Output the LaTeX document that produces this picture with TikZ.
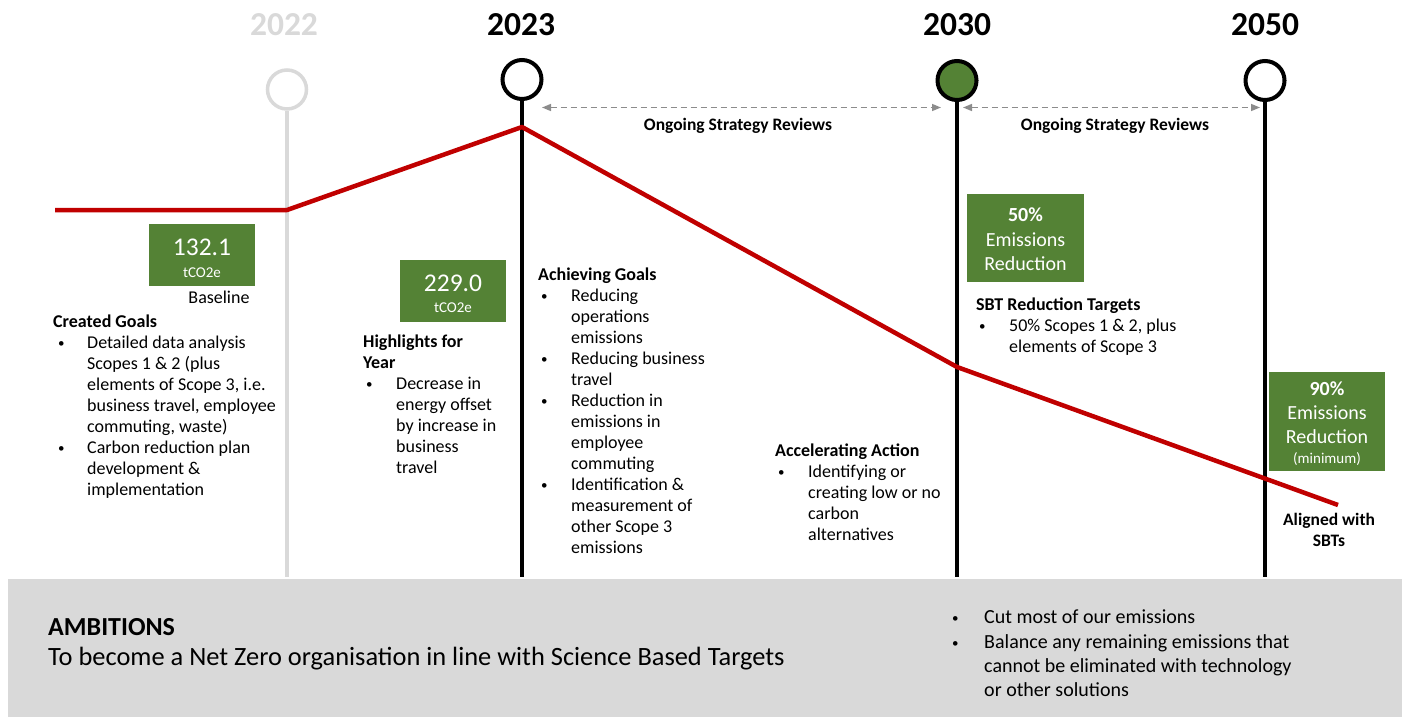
\documentclass[tikz,border=0pt]{standalone}
\usepackage{fontspec}
\setmainfont{Carlito}
\usetikzlibrary{arrows.meta}
\definecolor{tlgreen}{HTML}{548235}
\definecolor{tlred}{HTML}{C00000}
\definecolor{tlgray}{HTML}{D9D9D9}
\definecolor{tldash}{HTML}{8C8C8C}
\newcommand{\bodyfont}{\fontsize{18}{21}\selectfont}
\newcommand{\bigbody}{\fontsize{20}{24.3}\selectfont}
\newcommand{\bul}{\hspace*{3pt}\raisebox{1pt}{\fontsize{13}{13}\selectfont\textbullet}}
\tikzset{
  yearlbl/.style={font=\fontsize{33.5}{40}\selectfont\bfseries, anchor=base, inner sep=0},
  milestone/.style={circle, draw=black, line width=4pt, fill=white, minimum size=39pt, inner sep=0},
  stem/.style={line width=4pt, draw=black},
  emis/.style={draw=tlred, line width=4.5pt, line join=round},
  review/.style={draw=tldash, line width=1.5pt, dash pattern=on 6pt off 4pt,
     {Triangle[length=9pt,width=7pt]}-{Triangle[length=9pt,width=7pt]}},
  greenbox/.style={fill=tlgreen, draw=none, inner sep=0, anchor=north west},
  boxtxt/.style={text=white, anchor=base, inner sep=0},
  bodytxt/.style={font=\bodyfont, anchor=north west, inner sep=0},
  lbl/.style={font=\fontsize{17.5}{21}\selectfont\bfseries, anchor=base, inner sep=0}
}
\begin{document}
\begin{tikzpicture}[x=1pt,y=-1pt]
\useasboundingbox (0,0) rectangle (1404,717);
% bottom band
\fill[tlgray] (8,579) rectangle (1402,717);
% year labels
\node[yearlbl, text=tlgray] (y22) at (284,35.5) {2022};
\node[yearlbl] (y23) at (521,35.5) {2023};
\node[yearlbl] (y30) at (957,35.5) {2030};
\node[yearlbl] (y50) at (1265,35.5) {2050};
% stems
\coordinate (b22) at (287,577);
\coordinate (b23) at (522,577);
\coordinate (b30) at (957,577);
\coordinate (b50) at (1265,577);
\node[milestone, draw=tlgray, line width=3.5pt] (c22) at (287,89.5) {};
\node[milestone] (c23) at (522,79.5) {};
\node[milestone, fill=tlgreen] (c30) at (957,80.5) {};
\node[milestone] (c50) at (1265,80.5) {};
\draw[stem, draw=tlgray] (c22.south) -- (b22);
\draw[stem] (c23.south) -- (b23);
\draw[stem] (c30.south) -- (b30);
\draw[stem] (c50.south) -- (b50);
% review arrows
\coordinate (ra1) at (542,107.5);
\coordinate (ra2) at (941,107.5);
\coordinate (rb1) at (963,107.5);
\coordinate (rb2) at (1260,107.5);
\draw[review] (ra1) -- (ra2);
\draw[review] (rb1) -- (rb2);
\node[lbl] (rev1) at (738,130.5) {Ongoing Strategy Reviews};
\node[lbl] (rev2) at (1115,130.5) {Ongoing Strategy Reviews};
% emissions line
\coordinate (e0) at (55,210);
\coordinate (e1) at (287,210);
\coordinate (e2) at (522,127);
\coordinate (e3) at (957,367);
\coordinate (e4) at (1338,505);
\draw[emis] (e0) -- (e1) -- (e2) -- (e3) -- (e4);
% green boxes
\node[greenbox, minimum width=106pt, minimum height=62pt] (g1) at (149,224) {};
\node[boxtxt, font=\fontsize{25.5}{30}\selectfont] (g1a) at (202,255) {132.1};
\node[boxtxt, font=\fontsize{15}{18}\selectfont] (g1b) at (202,277) {tCO2e};
\node[greenbox, minimum width=106pt, minimum height=62pt] (g2) at (400,260) {};
\node[boxtxt, font=\fontsize{25.5}{30}\selectfont] (g2a) at (453,291) {229.0};
\node[boxtxt, font=\fontsize{15}{18}\selectfont] (g2b) at (453,312) {tCO2e};
\node[greenbox, minimum width=117pt, minimum height=88pt] (g3) at (967,194) {};
\node[boxtxt, font=\fontsize{20}{24}\selectfont\bfseries] (g3a) at (1025.5,221.5) {50\%};
\node[boxtxt, font=\fontsize{20}{24}\selectfont] (g3b) at (1025.5,246) {Emissions};
\node[boxtxt, font=\fontsize{20}{24}\selectfont] (g3c) at (1025.5,270) {Reduction};
\node[greenbox, minimum width=116pt, minimum height=99pt] (g4) at (1269,372) {};
\node[boxtxt, font=\fontsize{20}{24}\selectfont\bfseries] (g4a) at (1327,395.5) {90\%};
\node[boxtxt, font=\fontsize{20}{24}\selectfont] (g4b) at (1327,419) {Emissions};
\node[boxtxt, font=\fontsize{20}{24}\selectfont] (g4c) at (1327,443) {Reduction};
\node[boxtxt, font=\fontsize{15}{18}\selectfont] (g4d) at (1327,463) {(minimum)};
% labels
\node[font=\bodyfont, anchor=base, inner sep=0] (base) at (219,303.5) {Baseline};
\node[lbl] (al1) at (1329,525.5) {Aligned with};
\node[lbl] (al2) at (1329,546.5) {SBTs};
% text blocks
\node[bodytxt] (cg) at (53,312.3) {\begin{tabular}{@{}p{34pt}@{}l@{}}
\multicolumn{2}{@{}l@{}}{\bfseries Created Goals}\\
\hspace*{2pt}\bul & Detailed data analysis\\
 & Scopes 1 \& 2 (plus\\
 & elements of Scope 3, i.e.\\
 & business travel, employee\\
 & commuting, waste)\\
\hspace*{2pt}\bul & Carbon reduction plan\\
 & development \&\\
 & implementation
\end{tabular}};
\node[bodytxt] (hy) at (363,332.3) {\begin{tabular}{@{}p{33pt}@{}l@{}}
\multicolumn{2}{@{}l@{}}{\bfseries Highlights for}\\
\multicolumn{2}{@{}l@{}}{\bfseries Year}\\
\bul & Decrease in\\
 & energy offset\\
 & by increase in\\
 & business\\
 & travel
\end{tabular}};
\node[bodytxt] (ag) at (538,265.3) {\begin{tabular}{@{}p{33pt}@{}l@{}}
\multicolumn{2}{@{}l@{}}{\bfseries Achieving Goals}\\
\bul & Reducing\\
 & operations\\
 & emissions\\
\bul & Reducing business\\
 & travel\\
\bul & Reduction in\\
 & emissions in\\
 & employee\\
 & commuting\\
\bul & Identification \&\\
 & measurement of\\
 & other Scope 3\\
 & emissions
\end{tabular}};
\node[bodytxt] (aa) at (775,441.3) {\begin{tabular}{@{}p{33pt}@{}l@{}}
\multicolumn{2}{@{}l@{}}{\bfseries Accelerating Action}\\
\bul & Identifying or\\
 & creating low or no\\
 & carbon\\
 & alternatives
\end{tabular}};
\node[bodytxt] (sbt) at (976,295.3) {\begin{tabular}{@{}p{33pt}@{}l@{}}
\multicolumn{2}{@{}l@{}}{\bfseries SBT Reduction Targets}\\
\bul & 50\% Scopes 1 \& 2, plus\\
 & elements of Scope 3
\end{tabular}};
% ambitions
\node[font=\fontsize{26}{30}\selectfont\bfseries, anchor=base west, inner sep=0] (amb) at (48,635) {AMBITIONS};
\node[font=\fontsize{26.4}{30}\selectfont, anchor=base west, inner sep=0] (ambt) at (48,665) {To become a Net Zero organisation in line with Science Based Targets};
\node[font=\bigbody, anchor=north west, inner sep=0] (ambl) at (949,606.5) {\begin{tabular}{@{}p{35pt}@{}l@{}}
\bul & Cut most of our emissions\\
\bul & Balance any remaining emissions that\\
 & cannot be eliminated with technology\\
 & or other solutions
\end{tabular}};
\end{tikzpicture}
\end{document}
